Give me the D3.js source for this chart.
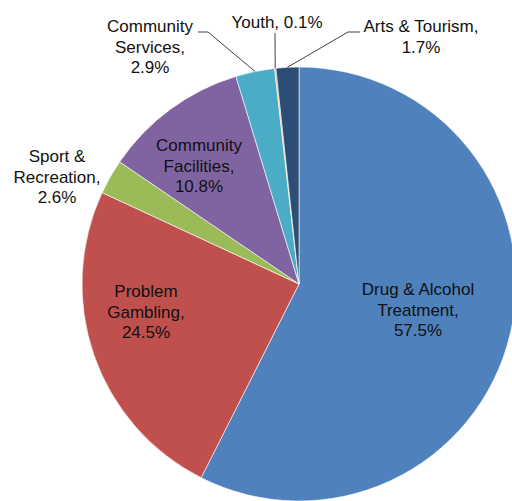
<!DOCTYPE html>
<html>
<head>
<meta charset="utf-8">
<script src="https://cdn.jsdelivr.net/npm/d3@7"></script>
<style>
  html, body { margin: 0; padding: 0; background: #fff; }
  svg { display: block; }
  .lbl { font-family: "Liberation Sans", Arial, sans-serif; font-size: 17px; fill: #111; }
</style>
</head>
<body>
<div id="chart"></div>
<script>
// Funding share by category, clockwise from 12 o'clock

const categories = ["Drug & Alcohol Treatment", "Problem Gambling", "Sport & Recreation",
  "Community Facilities", "Community Services", "Youth", "Arts & Tourism"];
const shares = [57.5, 24.5, 2.6, 10.8, 2.9, 0.1, 1.7];
const labelLines = [
  ["Drug & Alcohol", "Treatment,", "57.5%"],
  ["Problem", "Gambling,", "24.5%"],
  ["Sport &", "Recreation,", "2.6%"],
  ["Community", "Facilities,", "10.8%"],
  ["Community", "Services,", "2.9%"],
  ["Youth, 0.1%"],
  ["Arts & Tourism,", "1.7%"]
];
const colors = ["#4F81BD", "#C0504D", "#9BBB59", "#8064A2", "#4BACC6", "#F79646", "#2C4D75"];

const width = 512, height = 501;
const cx = 299, cy = 284, radius = 217;

// label anchor (centre x, first baseline y) and optional leader elbow
const labelLayout = [
  { x: 418, y: 295 },
  { x: 146, y: 297 },
  { x: 57, y: 162 },
  { x: 199, y: 151 },
  { x: 150, y: 32, elbow: [[198, 32], [208, 32]] },
  { x: 277, y: 28, elbow: [[275, 33]] },
  { x: 421, y: 32, elbow: [[360, 32], [348, 32]] }
];

const svg = d3.select("#chart").append("svg")
  .attr("width", width)
  .attr("height", height);

const g = svg.append("g").attr("transform", `translate(${cx},${cy})`);

const pie = d3.pie().sort(null).value(d => d);
const arcs = pie(shares);
const arc = d3.arc().innerRadius(0).outerRadius(radius);
const edgeArc = d3.arc().innerRadius(radius).outerRadius(radius);

g.selectAll("path.slice")
  .data(arcs)
  .join("path")
  .attr("class", "slice")
  .attr("d", arc)
  .attr("fill", (d, i) => colors[i])
  .attr("stroke", "#fff")
  .attr("stroke-width", 0.6);

// leader lines for the small outside labels
arcs.forEach((d, i) => {
  const lay = labelLayout[i];
  if (!lay.elbow) return;
  const [ex, ey] = edgeArc.centroid(d);
  const pts = lay.elbow.concat([[cx + ex, cy + ey]]);
  svg.append("path")
    .attr("d", d3.line()(pts))
    .attr("fill", "none")
    .attr("stroke", "#404040")
    .attr("stroke-width", 1);
});

// data labels
labelLines.forEach((lines, i) => {
  const lay = labelLayout[i];
  const t = svg.append("text")
    .attr("class", "lbl")
    .attr("text-anchor", "middle")
    .attr("x", lay.x)
    .attr("y", lay.y);
  lines.forEach((s, j) => {
    t.append("tspan")
      .attr("x", lay.x)
      .attr("dy", j === 0 ? 0 : 20.5)
      .text(s);
  });
});
</script>
</body>
</html>
